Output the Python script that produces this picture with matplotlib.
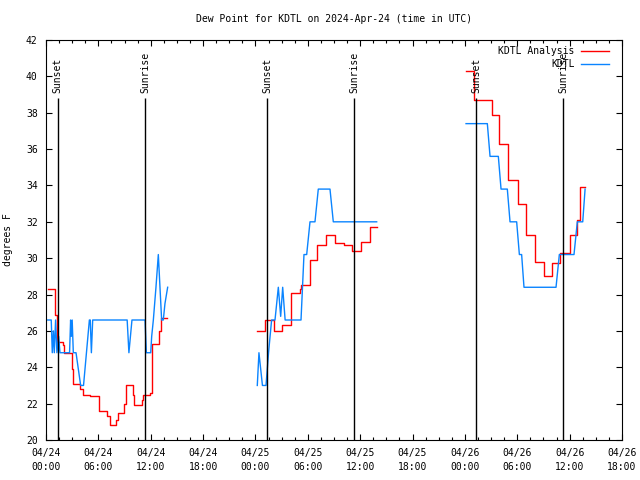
import matplotlib
matplotlib.use("Agg")
import matplotlib.pyplot as plt

# hours since 2024-04-24 00:00 UTC
# KDTL Analysis (red), drawn as steps
red1_t = [0.2, 1.0, 1.25, 1.9, 2.05, 2.95, 3.1, 3.9, 4.2, 5.0, 6.1, 7.0, 7.3, 8.05, 8.2,
          8.95, 9.2, 9.95, 10.05, 10.95, 11.15, 11.9, 12.2, 13.0, 13.2, 13.9]
red1_v = [28.3, 26.9, 25.4, 25.2, 24.8, 23.9, 23.1, 22.8, 22.5, 22.4, 21.6, 21.3, 20.8, 21.1, 21.5,
          22.0, 23.0, 22.5, 21.9, 22.2, 22.5, 22.6, 25.3, 26.0, 26.7, 26.7]
red2_t = [24.2, 25.1, 26.1, 27.05, 28.05, 29.05, 29.25, 30.2, 31.1, 32.1, 33.1, 34.15, 35.1,
          36.1, 37.1, 37.9]
red2_v = [26.0, 26.6, 26.0, 26.3, 28.1, 28.3, 28.5, 29.9, 30.7, 31.3, 30.85, 30.7, 30.4,
          30.9, 31.7, 31.7]
red3_t = [48.13, 49.05, 51.05, 51.95, 52.95, 54.05, 54.95, 56.0, 57.1, 58.0, 58.9, 60.0, 60.85,
          61.2, 61.77]
red3_v = [40.3, 38.7, 37.9, 36.3, 34.3, 33.0, 31.3, 29.8, 29.0, 29.75, 30.3, 31.3, 32.1,
          33.9, 33.9]

# KDTL observations (blue)
blue1_t = [0.2, 0.6, 0.72, 0.85, 0.95, 1.1, 1.25, 1.45, 1.6, 2.7, 2.82, 2.9, 3.0, 3.13, 3.44,
           3.97, 4.3, 4.97, 5.07, 5.2, 5.35, 5.6, 9.3, 9.5, 9.85, 11.35, 11.5, 12.0, 12.11,
           12.3, 12.6, 12.87, 13.06, 13.25, 13.44, 13.63, 13.94]
blue1_v = [26.6, 26.6, 24.8, 26.0, 24.8, 26.6, 24.8, 25.7, 24.8, 24.8, 26.6, 25.7, 26.6, 24.8, 24.8,
           23.0, 23.0, 26.6, 26.6, 24.8, 26.6, 26.6, 26.6, 24.8, 26.6, 26.6, 24.8, 24.8, 25.7,
           26.6, 28.4, 30.2, 28.4, 26.6, 26.6, 27.5, 28.4]
blue2_t = [24.21, 24.4, 24.6, 24.8, 25.21, 25.5, 25.85, 26.24, 26.62, 26.89, 27.12, 27.4,
           29.22, 29.56, 29.87, 30.25, 30.82, 31.2, 32.54, 32.92, 37.89]
blue2_v = [23.0, 24.8, 23.9, 23.0, 23.0, 24.8, 26.6, 26.6, 28.4, 26.8, 28.4, 26.6,
           26.6, 30.2, 30.2, 32.0, 32.0, 33.8, 33.8, 32.0, 32.0]
blue3_t = [48.13, 50.57, 50.88, 51.83, 52.14, 52.86, 53.17, 53.93, 54.24, 54.5, 54.77, 58.44,
           58.82, 60.5, 60.88, 61.5, 61.77]
blue3_v = [37.4, 37.4, 35.6, 35.6, 33.8, 33.8, 32.0, 32.0, 30.2, 30.2, 28.4, 28.4,
           30.2, 30.2, 32.0, 32.0, 33.8]

sunset_t = [1.33, 25.36, 49.28]
sunrise_t = [11.4, 35.33, 59.28]

xtick_pos = [0, 6, 12, 18, 24, 30, 36, 42, 48, 54, 60, 66]
xtick_labels = ["04/24\n00:00", "04/24\n06:00", "04/24\n12:00", "04/24\n18:00",
                "04/25\n00:00", "04/25\n06:00", "04/25\n12:00", "04/25\n18:00",
                "04/26\n00:00", "04/26\n06:00", "04/26\n12:00", "04/26\n18:00"]

plt.rcParams['font.family'] = ['DejaVu Sans Mono']
plt.rcParams['font.size'] = 7

fig = plt.figure(figsize=(6.4, 4.8), dpi=100)
ax = fig.add_axes([46/640, 1-440/480, 576/640, 400/480])

red = '#ff0000'
blue = '#0a84ff'

ax.plot(red1_t, red1_v, drawstyle='steps-post', color=red, lw=1, label='KDTL Analysis')
ax.plot(red2_t, red2_v, drawstyle='steps-post', color=red, lw=1)
ax.plot(red3_t, red3_v, drawstyle='steps-post', color=red, lw=1)
ax.plot(blue1_t, blue1_v, color=blue, lw=1, label='KDTL')
ax.plot(blue2_t, blue2_v, color=blue, lw=1)
ax.plot(blue3_t, blue3_v, color=blue, lw=1)

for t in sunset_t:
    ax.vlines(t, 20, 38.8, color='black', lw=1)
    ax.text(t, 39.1, 'Sunset', rotation=90, ha='center', va='bottom')
for t in sunrise_t:
    ax.vlines(t, 20, 38.8, color='black', lw=1)
    ax.text(t, 39.1, 'Sunrise', rotation=90, ha='center', va='bottom')

ax.set_xlim(0, 66)
ax.set_ylim(20, 42)
ax.set_xticks(xtick_pos)
ax.set_xticklabels(xtick_labels, linespacing=1.4)
ax.set_xticks([t + 1.5 * k for t in xtick_pos[:-1] for k in (1, 2, 3)], minor=True)
ax.set_yticks(range(20, 43, 2))
ax.tick_params(which='both', direction='in', top=True, right=True, width=0.8)
ax.tick_params(which='major', length=4, pad=6)
ax.tick_params(which='minor', length=2)
for s in ax.spines.values():
    s.set_linewidth(0.8)

ax.set_ylabel('degrees F', labelpad=9)
fig.text(334/640, 1-19/480, 'Dew Point for KDTL on 2024-Apr-24 (time in UTC)',
         ha='center', va='center')

ax.legend(loc='upper right', bbox_to_anchor=(0.977, 0.985), markerfirst=False, frameon=False,
          handlelength=2.9, handletextpad=0.6, labelspacing=0.35, borderaxespad=0, borderpad=0)

fig.savefig('out.png', dpi=100)
